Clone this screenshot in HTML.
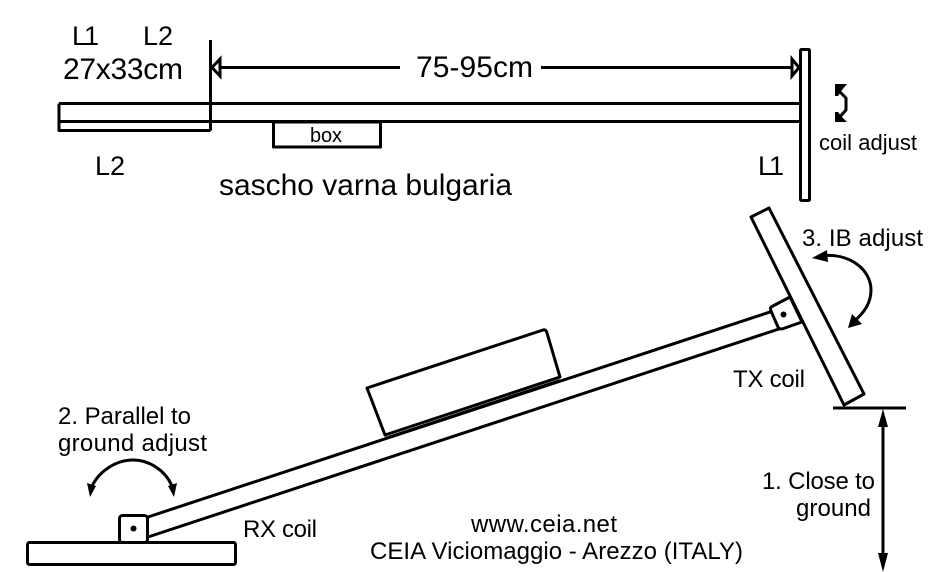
<!DOCTYPE html>
<html><head><meta charset="utf-8"><style>
html,body{margin:0;padding:0;background:#fff;width:942px;height:572px;overflow:hidden}
svg{display:block}
text{font-family:"Liberation Sans",Arial,sans-serif;fill:#000;stroke:none}
.s{fill:none;stroke:#000;stroke-width:3;stroke-linejoin:round}
.f{fill:#000;stroke:none}
</style></head><body>
<svg width="942" height="572" viewBox="0 0 942 572" xmlns="http://www.w3.org/2000/svg">
<!-- top diagram -->
<path class="s" d="M59 103.5H800M59 121.5H800M59 103.5V130.5H210.5M210.5 40V130.5"/>
<path class="s" d="M212 67.5H400M541 67.5H795"/>
<path d="M212 67.5L220 59V76Z" fill="#fff" stroke="#000" stroke-width="3"/>
<path d="M799 67.5L792 59V76Z" fill="#fff" stroke="#000" stroke-width="3"/>
<rect class="s" x="800.5" y="49.5" width="9" height="151" rx="1" style="fill:#fff"/>
<rect class="s" x="273.5" y="122" width="107" height="25"/>
<path class="s" d="M838 90L846 98V110L838 119"/>
<path class="f" d="M835 84H847L842 90L838 96H835ZM835 122H847L842 117L838 112H835Z"/>
<text x="72" y="45" font-size="27" textLength="27">L1</text>
<text x="143" y="45" font-size="27" textLength="30">L2</text>
<text x="63" y="79" font-size="30" textLength="120">27x33cm</text>
<text x="416" y="77" font-size="30" textLength="117">75-95cm</text>
<text x="95" y="175" font-size="27" textLength="30">L2</text>
<text x="758" y="175" font-size="27" textLength="26">L1</text>
<text x="310" y="142" font-size="20" textLength="32">box</text>
<text x="819" y="150" font-size="22" textLength="98">coil adjust</text>
<text x="219" y="195" font-size="30" textLength="293">sascho varna bulgaria</text>
<!-- TX coil -->
<path class="s" d="M148 517L773 311M148 537L782 328"/>
<path class="s" d="M771 307L790 297L802 322L782 329Q779 329 778 327L771 311Q770 308 771 307Z" style="fill:#fff"/>
<circle class="f" cx="783.5" cy="314.5" r="3"/>
<path class="s" d="M751 217L769 208L864 394L844 405Z" style="fill:#fff"/>
<path class="s" d="M820 256C850 252 871 270 871 290C871 305 862 315 853 322"/>
<path class="f" d="M812 258L827 250L828 262ZM848 328L852 314L862 324Z"/>
<!-- box -->
<path class="s" d="M367 388L543 330Q546 329 547 333L560 377L385 435Z" style="fill:#fff"/>
<path class="s" d="M385 438.5L560 380.5" stroke-width="2"/>
<!-- RX coil -->
<rect class="s" x="27.5" y="542.5" width="208" height="22" rx="2" style="fill:#fff"/>
<rect class="s" x="119.5" y="515.5" width="28" height="27" rx="3" style="fill:#fff"/>
<circle class="f" cx="133.5" cy="528.5" r="3"/>
<path class="s" d="M92 486C100 470 117 460 133 460C149 460 165 470 172 486"/>
<path class="f" d="M90 497L87 483L96 486ZM174 497L168 486L177 483Z"/>
<!-- ground dimension -->
<path class="s" d="M833 408H906M883 420V560"/>
<path class="f" d="M883 409L888 427H878ZM883 572L878 553H888Z"/>
<!-- labels -->
<text x="802" y="246" font-size="24" textLength="121">3. IB adjust</text>
<text x="733" y="387" font-size="24" textLength="72">TX coil</text>
<text x="58" y="424" font-size="24" textLength="133">2. Parallel to</text>
<text x="58" y="451" font-size="24" textLength="149">ground adjust</text>
<text x="243" y="537" font-size="24" textLength="74">RX coil</text>
<text x="471" y="532" font-size="24" textLength="146">www.ceia.net</text>
<text x="370" y="559" font-size="24" textLength="373">CEIA Viciomaggio - Arezzo (ITALY)</text>
<text x="762" y="489" font-size="24" textLength="113">1. Close to</text>
<text x="796" y="516" font-size="24" textLength="75">ground</text>
</svg>
</body></html>
